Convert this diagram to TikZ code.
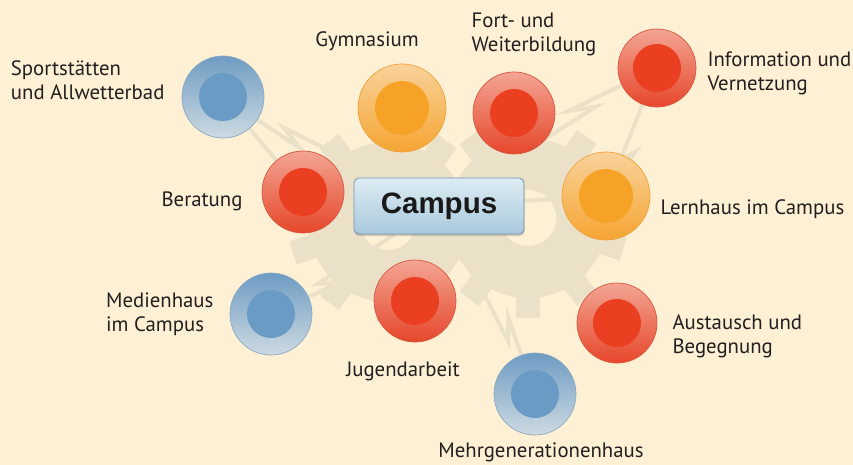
\documentclass[tikz,border=0pt]{standalone}
\usepackage{fontspec}
\setmainfont{PT Sans}
\newfontfamily\boxfont{Liberation Sans}
\usetikzlibrary{calc}
\usetikzlibrary{positioning}
\usetikzlibrary{backgrounds}
\usetikzlibrary{shadows}

\definecolor{paper}{HTML}{FDF0D4}
\definecolor{gearcol}{HTML}{EBE0C8}
\definecolor{ink}{HTML}{231F20}
\definecolor{redtop}{HTML}{F3A593}
\definecolor{redbot}{HTML}{E6472B}
\definecolor{redline}{HTML}{D8583F}
\definecolor{redcore}{HTML}{EA3F20}
\definecolor{orangetop}{HTML}{F9D29A}
\definecolor{orangebot}{HTML}{F5A533}
\definecolor{orangeline}{HTML}{EFA23A}
\definecolor{orangecore}{HTML}{F6A226}
\definecolor{bluetop}{HTML}{6F9CC3}
\definecolor{bluebot}{HTML}{CDDAE1}
\definecolor{blueline}{HTML}{89A9C4}
\definecolor{bluecore}{HTML}{6A9BC5}
\definecolor{boxtop}{HTML}{DDECF3}
\definecolor{boxbot}{HTML}{A9C9DC}
\definecolor{boxline}{HTML}{7195AD}

\tikzset{
  ball/.style={circle, minimum size=82pt, inner sep=0pt, line width=0.7pt},
  redball/.style={ball, draw=redline, top color=redtop, bottom color=redbot,
    path picture={\fill[redcore] (path picture bounding box.center) circle (24pt);}},
  orangeball/.style={ball, minimum size=88pt, draw=orangeline, top color=orangetop, bottom color=orangebot,
    path picture={\fill[orangecore] (path picture bounding box.center) circle (27pt);}},
  blueball/.style={ball, draw=blueline, top color=bluetop, bottom color=bluebot,
    path picture={\fill[bluecore] (path picture bounding box.center) circle (24pt);}},
  campusbox/.style={rectangle, rounded corners=5pt, minimum width=170pt, minimum height=56pt,
    draw=boxline, line width=0.8pt, top color=boxtop, bottom color=boxbot,
    drop shadow={shadow xshift=0.5pt, shadow yshift=-2pt, opacity=.35},
    font=\boxfont\bfseries\fontsize{29.5}{31}\selectfont, text=black!90},
  lbl/.style={inner sep=0pt, align=left, text=ink, font=\fontsize{20.8}{24}\selectfont},
  link/.style={draw=gearcol, line width=4pt},
  bolt/.style={to path={-- ($(\tikztostart)!.72!(\tikztotarget)$)
    -- ($(\tikztostart)!.62!(\tikztotarget)!11pt!90:(\tikztotarget)$) -- (\tikztotarget)}}
}

\begin{document}
\begin{tikzpicture}[x=1pt, y=-1pt]
\useasboundingbox (0,0) rectangle (853,465);

% the balls
\node[blueball] (spo) at (223,97) {};
\node[orangeball] (gym) at (402,108) {};
\node[redball] (fort) at (514,113) {};
\node[redball, minimum size=78pt] (inf) at (657,68) {};
\node[orangeball] (ler) at (606,196) {};
\node[redball] (ber) at (303,192) {};
\node[blueball] (med) at (271,314) {};
\node[redball] (jug) at (415,301) {};
\node[redball, minimum size=80pt] (aus) at (617,323) {};
\node[blueball] (meh) at (535,394) {};

\node[campusbox] (campus) at (439,206) {Campus};

% labels
\node[lbl, left=17pt of spo, yshift=17pt] (spo-l) {Sportstätten\\und Allwetterbad};
\node[lbl, above=13pt of gym, xshift=-35pt] (gym-l) {Gymnasium};
\node[lbl, above=16pt of fort, xshift=20pt] (fort-l) {Fort- und\\Weiterbildung};
\node[lbl, right=11pt of inf, yshift=-5pt] (inf-l) {Information und\\Vernetzung};
\node[lbl, right=10pt of ler, yshift=-13pt] (ler-l) {Lernhaus im Campus};
\node[lbl, left=19pt of ber, yshift=-9pt] (ber-l) {Beratung};
\node[lbl, left=16pt of med] (med-l) {Medienhaus\\im Campus};
\node[lbl, below=19pt of jug, xshift=-12pt] (jug-l) {Jugendarbeit};
\node[lbl, right=15pt of aus, yshift=-13pt] (aus-l) {Austausch und\\Begegnung};
\node[lbl, below=7pt of meh, xshift=6pt] (meh-l) {Mehrgenerationenhaus};

\begin{scope}[on background layer]
  \fill[paper] (0,0) rectangle (853,465);
  % two gears behind the box
  \foreach \gx/\gy in {388/222, 528/218} {
    \fill[gearcol] (\gx,\gy) circle (80);
    \foreach \a in {0,36,...,324}
      \fill[gearcol, rotate around={\a:(\gx,\gy)}] (\gx-12,\gy-100) rectangle (\gx+12,\gy-70);
    \fill[paper] (\gx,\gy) circle (28);
  }
  % zigzag links
  \foreach \n in {spo,gym,fort,inf,ler,ber,med,jug,aus,meh}
    \draw[link] (campus) to[bolt] (\n);
  \draw[link] (spo) -- (ber);
  \draw[link] (inf) to[bolt] (ler);
\end{scope}
\end{tikzpicture}
\end{document}
